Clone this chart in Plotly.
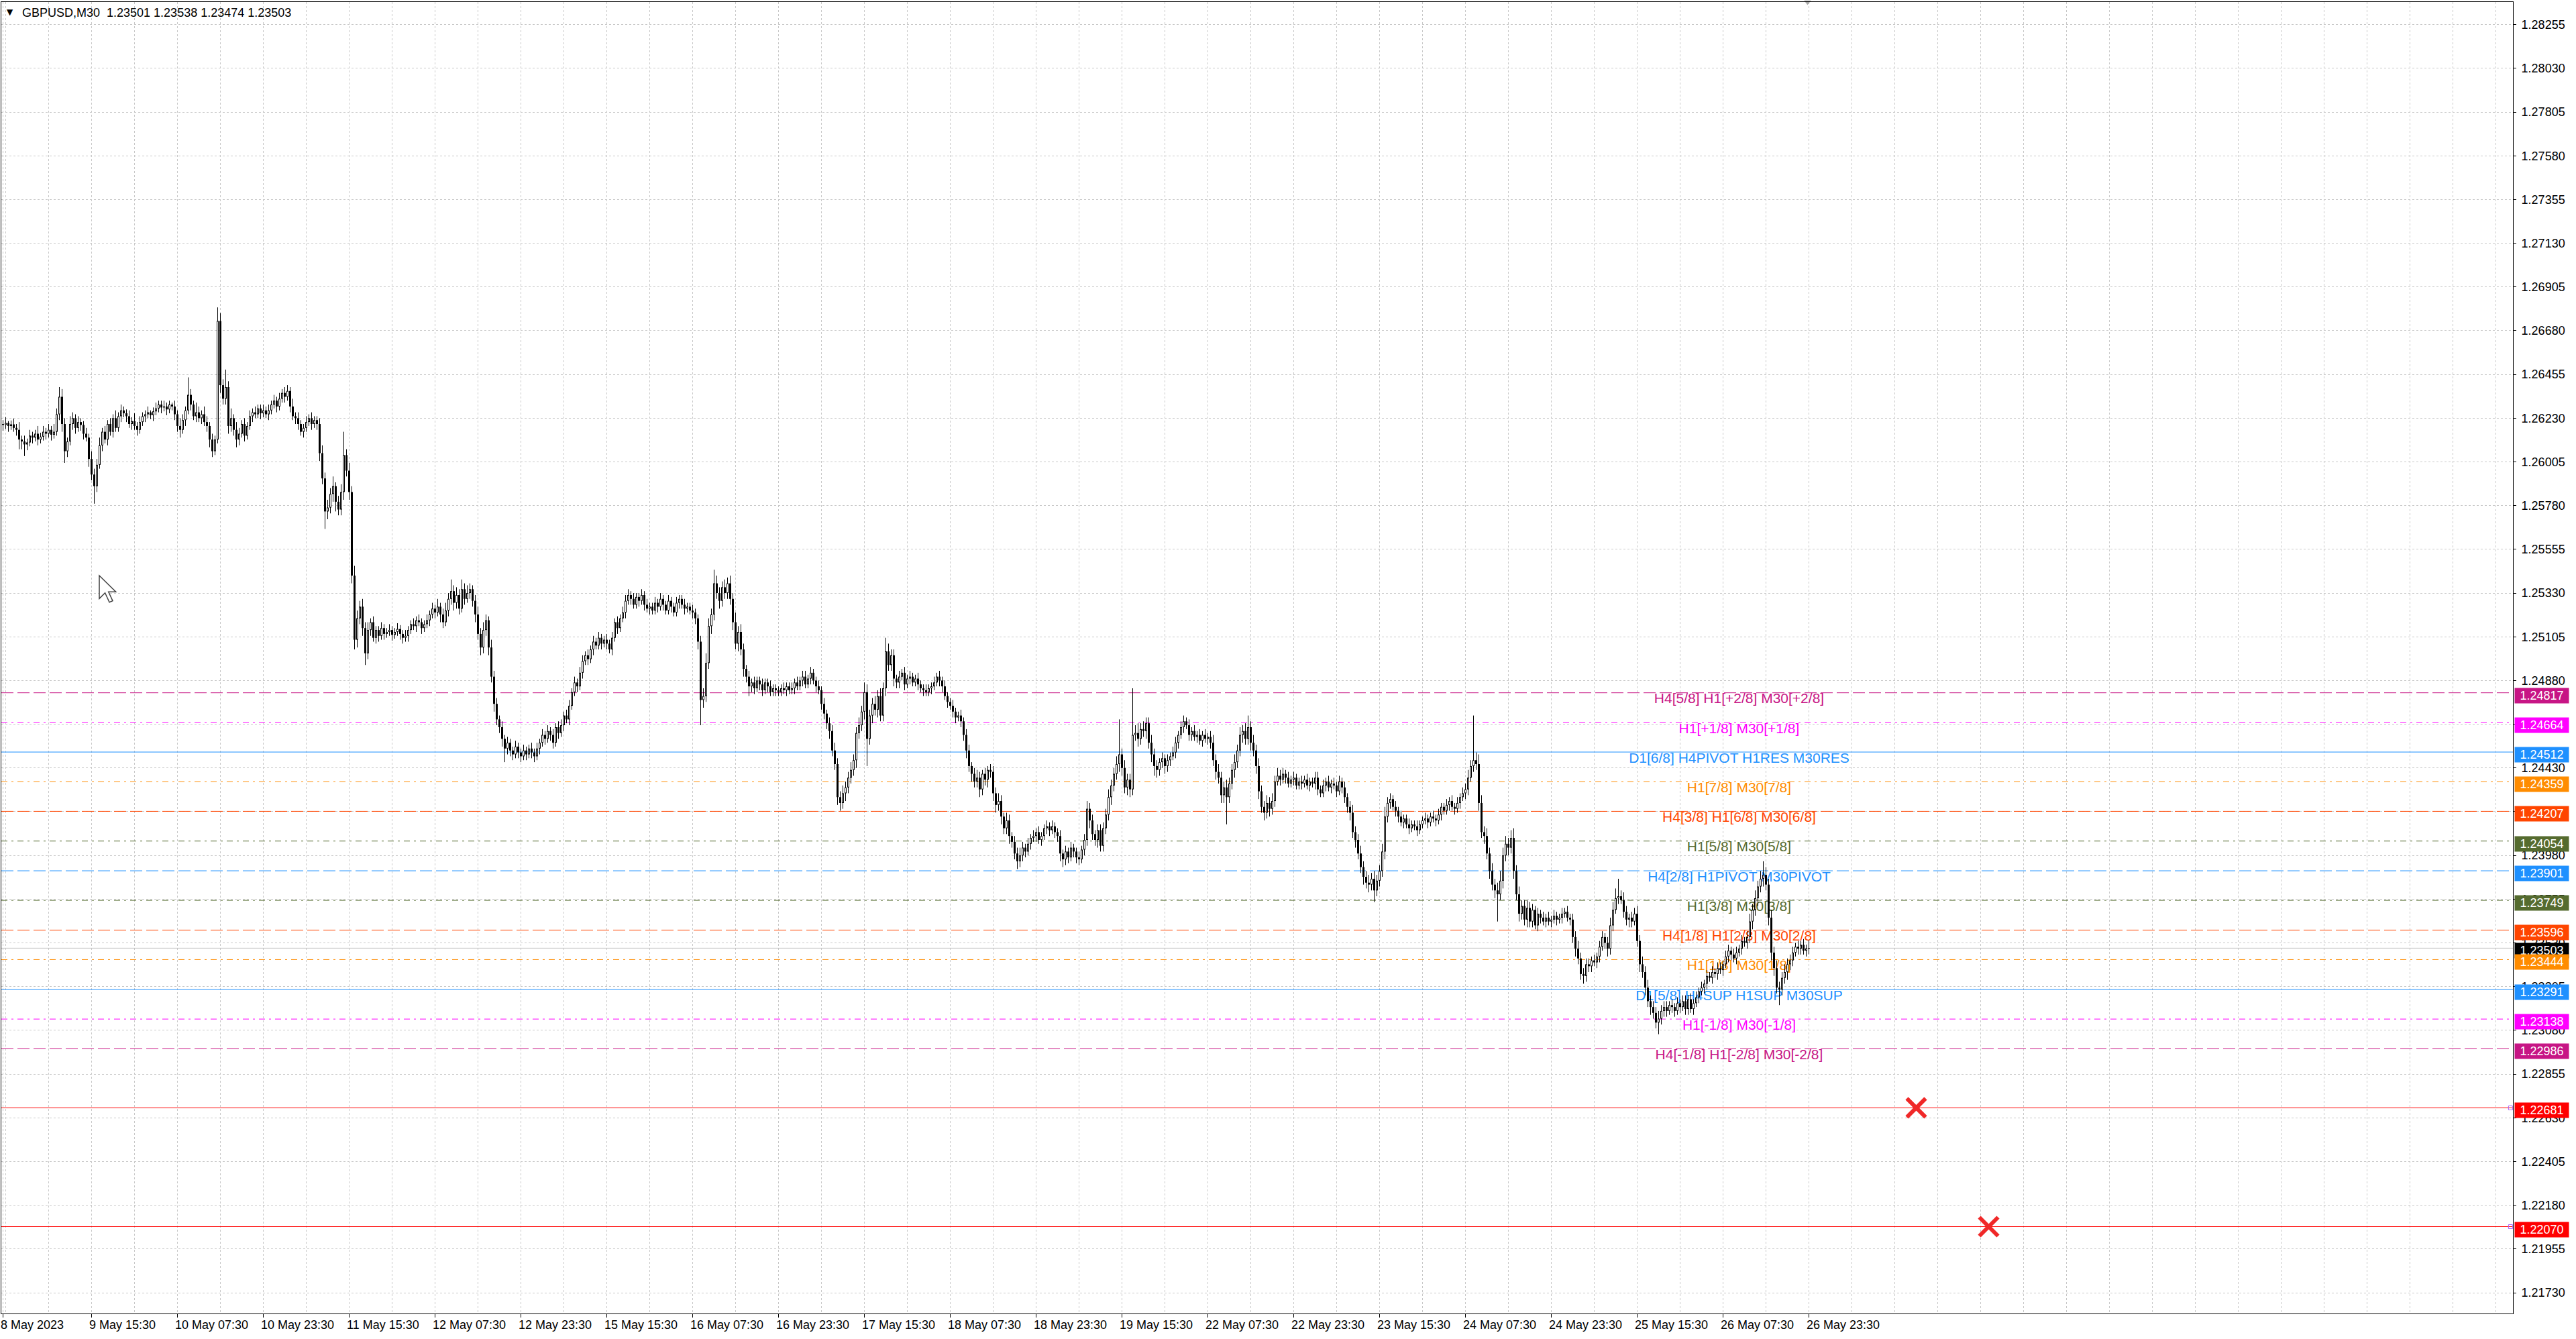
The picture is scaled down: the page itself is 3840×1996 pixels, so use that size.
import plotly.graph_objects as go

# ---------------- data (prices in 0.1-pip units above 1.20000) ----------------
BASE = 1.20000
UNIT = 0.00001
OPEN_FIRST = 6200

CLOSE = [
    6195, 6205, 6190, 6198, 6180, 6170, 6120, 6110, 6095, 6105,   # 0
    6140, 6130, 6150, 6120, 6135, 6160, 6150, 6170, 6145, 6160,   # 10
    6250, 6340, 6200, 6060, 6110, 6200, 6230, 6180, 6210, 6195,   # 20
    6150, 6130, 6020, 5940, 5880, 5990, 6090, 6160, 6120, 6200,   # 30
    6160, 6230, 6180, 6240, 6270, 6255, 6240, 6200, 6215, 6190,   # 40
    6170, 6210, 6240, 6250, 6260, 6245, 6265, 6280, 6300, 6285,   # 50
    6290, 6275, 6300, 6290, 6250, 6190, 6170, 6220, 6270, 6350,   # 60
    6300, 6240, 6260, 6230, 6250, 6210, 6190, 6120, 6060, 6120,   # 70
    6730, 6400, 6330, 6390, 6190, 6230, 6170, 6120, 6150, 6200,   # 80
    6140, 6190, 6240, 6260, 6250, 6280, 6255, 6270, 6250, 6270,   # 90
    6300, 6320, 6290, 6330, 6360, 6340, 6370, 6290, 6240, 6230,   # 100
    6200, 6160, 6180, 6210, 6230, 6200, 6220, 6200, 6050, 5920,   # 110
    5750, 5770, 5840, 5880, 5800, 5760, 5850, 6040, 5960, 5850,   # 120
    5420, 5090, 5200, 5260, 5150, 5020, 5140, 5180, 5100, 5140,   # 130
    5110, 5150, 5120, 5130, 5140, 5115, 5130, 5145, 5120, 5100,   # 140
    5110, 5140, 5170, 5160, 5190, 5180, 5150, 5170, 5190, 5220,   # 150
    5250, 5230, 5260, 5220, 5180, 5240, 5300, 5340, 5280, 5320,   # 160
    5250, 5350, 5300, 5330, 5350, 5290, 5220, 5120, 5050, 5140,   # 170
    5190, 5050, 4900, 4760, 4680, 4640, 4580, 4530, 4560, 4520,   # 180
    4500, 4540, 4510, 4490, 4520, 4500, 4530, 4510, 4490, 4530,   # 190
    4560, 4600, 4580, 4620, 4600, 4560, 4640, 4610, 4650, 4700,   # 200
    4680, 4750, 4820, 4870, 4850, 4920, 4980, 5010, 4990, 5040,   # 210
    5080, 5060, 5100, 5070, 5090, 5070, 5040, 5100, 5180, 5150,   # 220
    5200, 5230, 5290, 5320, 5300, 5270, 5310, 5290, 5320, 5270,   # 230
    5250, 5260, 5240, 5280, 5260, 5300, 5270, 5240, 5290, 5260,   # 240
    5230, 5280, 5300, 5270, 5250, 5260, 5240, 5230, 5200, 5080,   # 250
    4780, 4800, 4970, 5160, 5220, 5380, 5330, 5290, 5360, 5330,   # 260
    5380, 5300, 5180, 5070, 5130, 5040, 4940, 4900, 4850, 4870,   # 270
    4840, 4880, 4860, 4830, 4870, 4850, 4820, 4840, 4830, 4820,   # 280
    4840, 4830, 4850, 4830, 4840, 4870, 4850, 4880, 4900, 4860,   # 290
    4890, 4920, 4880, 4850, 4830, 4760, 4710, 4660, 4620, 4520,   # 300
    4450, 4280, 4250, 4300, 4330, 4380, 4420, 4470, 4610, 4650,   # 310
    4720, 4820, 4580, 4700, 4760, 4730, 4800, 4700, 4840, 5030,   # 320
    4960, 5010, 4890, 4870, 4900, 4920, 4860, 4890, 4900, 4870,   # 330
    4890, 4860, 4840, 4830, 4820, 4840, 4850, 4870, 4900, 4880,   # 340
    4850, 4800, 4770, 4750, 4720, 4690, 4700, 4670, 4600, 4520,   # 350
    4440, 4400, 4360, 4380, 4320, 4400, 4370, 4420, 4410, 4300,   # 360
    4240, 4260, 4180, 4120, 4160, 4080, 4050, 3990, 3950, 3980,   # 370
    4020, 4000, 4040, 4070, 4080, 4100, 4060, 4080, 4120, 4130,   # 380
    4110, 4130, 4100, 4080, 3990, 3960, 4000, 3970, 4020, 4000,   # 390
    3970, 3960, 4010, 4060, 4220, 4160, 4090, 4060, 4110, 4030,   # 400
    4120, 4190, 4280, 4340, 4400, 4450, 4500, 4430, 4330, 4370,   # 410
    4320, 4600, 4610, 4580, 4630, 4620, 4660, 4560, 4500, 4440,   # 420
    4420, 4460, 4480, 4440, 4470, 4490, 4510, 4560, 4600, 4640,   # 430
    4670, 4650, 4600, 4620, 4590, 4600, 4570, 4600, 4580, 4590,   # 440
    4560, 4470, 4410, 4380, 4290, 4330, 4280, 4350, 4420, 4460,   # 450
    4520, 4600, 4620, 4580, 4640, 4560, 4520, 4440, 4310, 4230,   # 460
    4200, 4250, 4220, 4260, 4360, 4390, 4370, 4400, 4380, 4350,   # 470
    4370, 4380, 4340, 4360, 4350, 4370, 4340, 4360, 4350, 4380,   # 480
    4320, 4300, 4340, 4360, 4330, 4350, 4340, 4310, 4360, 4330,   # 490
    4280, 4230, 4200, 4100, 4060, 3990, 3920, 3870, 3840, 3830,   # 500
    3860, 3800, 3850, 3900, 4000, 4180, 4250, 4270, 4230, 4210,   # 510
    4180, 4150, 4170, 4140, 4120, 4140, 4130, 4110, 4140, 4160,   # 520
    4170, 4150, 4180, 4170, 4160, 4190, 4230, 4210, 4240, 4260,   # 530
    4230, 4220, 4250, 4280, 4300, 4320, 4380, 4440, 4470, 4450,   # 540
    4250, 4100, 4080, 3990, 3900, 3830, 3800, 3780, 3850, 3980,   # 550
    4040, 4020, 4070, 3900, 3780, 3680, 3720, 3650, 3710, 3640,   # 560
    3700, 3620, 3680, 3660, 3640, 3660, 3640, 3650, 3670, 3650,   # 570
    3660, 3680, 3690, 3660, 3650, 3560, 3500, 3450, 3370, 3360,   # 580
    3420, 3410, 3440, 3430, 3460, 3510, 3560, 3530, 3500, 3620,   # 590
    3700, 3760, 3770, 3750, 3690, 3650, 3660, 3640, 3680, 3540,   # 600
    3420, 3380, 3300, 3230, 3200, 3170, 3120, 3140, 3180, 3200,   # 610
    3180, 3210, 3200, 3180, 3220, 3200, 3230, 3190, 3240, 3190,   # 620
    3220, 3250, 3280, 3300, 3320, 3360, 3350, 3380, 3370, 3400,   # 630
    3390, 3420, 3460, 3490, 3470, 3450, 3480, 3500, 3540, 3530,   # 640
    3560, 3640, 3700, 3760, 3820, 3860, 3880, 3830, 3660, 3480,   # 650
    3400, 3300, 3290, 3350, 3380, 3420, 3440, 3480, 3510, 3500,   # 660
    3520, 3490, 3501, 3503,                                       # 670
]

# wick extents beyond the body, in pips
WICK_UP = [
    2, 3, 1, 2, 3, 2, 4, 2, 3, 2,  3, 2, 2, 4, 2, 3, 2, 3, 2, 4,
    3, 5, 4, 3, 2, 4, 3, 2, 3, 2,  2, 3, 2, 4, 3, 3, 4, 2, 3, 2,
    3, 2, 4, 2, 3, 2, 2, 3, 2, 4,  2, 3, 2, 2, 3, 1, 2, 3, 2, 2,
    3, 2, 2, 1, 3, 2, 4, 3, 2, 9,  3, 2, 5, 3, 2, 4, 3, 2, 3, 2,
    7, 4, 3, 9, 3, 5, 2, 4, 3, 2,  3, 2, 3, 2, 3, 2, 2, 3, 2, 3,
    2, 3, 2, 3, 2, 3, 3, 2, 4, 2,  3, 2, 2, 3, 2, 3, 2, 2, 3, 4,
    3, 4, 3, 5, 2, 3, 4, 12, 3, 4, 3, 5, 4, 3, 4, 3, 4, 2, 3, 2,
    2, 3, 2, 2, 3, 2, 2, 3, 2, 2,  3, 2, 2, 3, 2, 3, 2, 2, 3, 2,
    3, 2, 4, 2, 3, 4, 3, 6, 3, 4,  3, 5, 3, 4, 3, 2, 3, 4, 3, 4,
    3, 2, 4, 3, 3, 2, 3, 2, 3, 2,  2, 3, 2, 2, 3, 2, 2, 3, 2, 3,
    2, 3, 2, 3, 2, 3, 2, 3, 3, 2,  3, 3, 2, 3, 2, 3, 3, 2, 3, 2,
    3, 2, 3, 2, 2, 3, 2, 3, 2, 3,  2, 3, 3, 3, 2, 3, 2, 2, 3, 2,
    3, 2, 2, 3, 2, 3, 2, 2, 3, 2,  2, 3, 2, 2, 3, 2, 2, 3, 2, 2,
    3, 4, 5, 4, 3, 7, 4, 3, 3, 4,  3, 4, 3, 5, 3, 4, 3, 2, 3, 2,
    3, 2, 2, 3, 2, 2, 3, 2, 2, 2,  2, 3, 2, 2, 3, 2, 3, 2, 3, 3,
    2, 3, 2, 2, 3, 2, 3, 2, 3, 3,  4, 3, 3, 4, 3, 3, 4, 3, 3, 4,
    3, 5, 4, 3, 3, 4, 3, 4, 3, 7,  4, 3, 3, 2, 3, 2, 3, 2, 3, 2,
    2, 3, 2, 2, 3, 2, 2, 3, 2, 3,  2, 3, 2, 2, 3, 2, 2, 3, 2, 3,
    3, 2, 3, 4, 3, 2, 3, 2, 3, 3,  3, 4, 3, 2, 4, 3, 2, 3, 3, 4,
    3, 2, 3, 2, 3, 2, 3, 2, 2, 3,  2, 3, 2, 2, 3, 2, 3, 2, 3, 2,
    2, 3, 2, 3, 4, 3, 3, 2, 3, 3,  3, 3, 4, 3, 3, 4, 18, 3, 4, 3,
    3, 24, 4, 5, 3, 4, 3, 3, 4, 3, 3, 2, 3, 2, 3, 2, 3, 3, 2, 3,
    3, 2, 3, 2, 3, 2, 3, 2, 3, 2,  3, 4, 3, 4, 3, 3, 4, 3, 3, 4,
    3, 4, 3, 4, 6, 3, 4, 3, 4, 3,  3, 4, 3, 4, 3, 4, 3, 3, 2, 3,
    2, 3, 2, 2, 3, 2, 3, 2, 2, 3,  3, 2, 3, 2, 3, 2, 3, 2, 3, 2,
    3, 2, 3, 4, 3, 3, 4, 3, 3, 4,  3, 4, 3, 3, 4, 5, 3, 3, 2, 3,
    2, 3, 2, 2, 3, 2, 2, 3, 2, 2,  3, 2, 2, 3, 2, 3, 2, 2, 3, 2,
    3, 2, 3, 2, 3, 3, 4, 3, 23, 4, 5, 4, 3, 4, 3, 4, 3, 4, 5, 4,
    4, 3, 4, 5, 3, 4, 3, 3, 4, 3,  3, 2, 3, 2, 3, 2, 3, 2, 3, 2,
    2, 3, 2, 3, 2, 3, 3, 4, 3, 3,  3, 3, 2, 3, 2, 3, 3, 2, 3, 4,
    4, 5, 9, 3, 4, 3, 2, 3, 3, 4,  3, 4, 3, 4, 3, 3, 3, 4, 3, 3,
    3, 2, 3, 2, 3, 2, 3, 3, 2, 3,  2, 3, 2, 3, 2, 3, 2, 3, 2, 3,
    3, 2, 3, 3, 2, 3, 3, 2, 3, 2,  3, 4, 3, 4, 3, 4, 7, 4, 3, 4,
    3, 4, 3, 3, 4, 3, 3, 3, 2, 3,  2, 3, 2, 4,
]

WICK_DN = [
    3, 2, 3, 2, 2, 3, 5, 4, 6, 3,  2, 3, 2, 3, 2, 2, 3, 2, 3, 2,
    2, 3, 4, 6, 3, 2, 3, 3, 2, 3,  3, 2, 4, 3, 9, 3, 2, 3, 2, 3,
    2, 3, 2, 2, 3, 2, 3, 2, 3, 2,  3, 2, 2, 3, 2, 2, 3, 2, 2, 3,
    2, 3, 2, 2, 3, 3, 4, 2, 3, 2,  3, 2, 3, 2, 3, 2, 3, 4, 3, 2,
    2, 4, 3, 3, 4, 3, 3, 4, 3, 2,  3, 2, 2, 3, 2, 2, 3, 2, 2, 3,
    2, 2, 3, 2, 2, 3, 2, 3, 2, 3,  3, 2, 3, 2, 2, 3, 2, 3, 4, 3,
    9, 4, 3, 4, 5, 3, 3, 4, 3, 4,  4, 5, 4, 3, 4, 6, 3, 3, 2, 3,
    3, 2, 3, 2, 2, 3, 2, 2, 3, 3,  2, 3, 2, 2, 3, 2, 3, 2, 2, 3,
    2, 3, 2, 4, 3, 2, 3, 3, 4, 3,  3, 2, 3, 2, 3, 3, 4, 3, 4, 3,
    3, 4, 3, 4, 3, 3, 4, 7, 3, 3,  3, 2, 3, 3, 2, 3, 2, 3, 3, 2,
    3, 2, 3, 2, 3, 3, 2, 3, 2, 3,  2, 3, 2, 2, 3, 2, 3, 2, 3, 2,
    3, 2, 2, 3, 2, 3, 2, 3, 2, 3,  2, 2, 3, 2, 3, 2, 2, 3, 2, 3,
    2, 3, 2, 2, 3, 2, 3, 2, 2, 3,  2, 2, 3, 2, 3, 2, 2, 3, 3, 4,
    13, 4, 3, 3, 4, 3, 3, 4, 3, 3, 3, 3, 4, 3, 4, 3, 4, 3, 5, 3,
    3, 2, 3, 3, 2, 3, 2, 2, 3, 2,  2, 2, 3, 2, 2, 3, 2, 2, 3, 2,
    2, 3, 2, 3, 2, 3, 3, 3, 4, 3,  3, 4, 4, 3, 4, 3, 3, 3, 4, 3,
    3, 4, 14, 3, 4, 3, 4, 3, 3, 4, 3, 3, 4, 3, 3, 2, 3, 2, 3, 2,
    2, 3, 2, 3, 2, 2, 3, 2, 2, 3,  3, 2, 3, 2, 3, 3, 2, 3, 3, 4,
    3, 4, 3, 3, 4, 3, 3, 4, 3, 4,  4, 3, 4, 3, 3, 4, 3, 3, 4, 3,
    3, 3, 2, 3, 2, 3, 2, 3, 2, 3,  3, 2, 3, 3, 4, 4, 3, 3, 2, 3,
    3, 3, 2, 3, 3, 4, 3, 3, 4, 3,  3, 3, 3, 4, 3, 3, 4, 4, 3, 4,
    4, 3, 3, 4, 3, 3, 4, 3, 4, 5,  4, 3, 3, 4, 3, 3, 2, 3, 3, 2,
    3, 2, 3, 3, 2, 3, 2, 3, 2, 3,  3, 3, 4, 3, 4, 4, 14, 3, 3, 4,
    3, 3, 4, 3, 3, 4, 3, 4, 4, 3,  4, 3, 4, 3, 3, 2, 3, 2, 3, 2,
    2, 3, 2, 2, 3, 2, 2, 3, 2, 3,  3, 2, 2, 3, 2, 3, 2, 3, 2, 3,
    3, 3, 4, 3, 4, 3, 3, 4, 3, 4,  3, 6, 3, 3, 3, 4, 3, 3, 2, 3,
    3, 2, 3, 2, 3, 2, 2, 3, 2, 2,  2, 3, 2, 2, 3, 2, 3, 2, 2, 3,
    2, 3, 2, 3, 2, 3, 3, 2, 3, 3,  4, 3, 4, 3, 4, 3, 4, 14, 3, 4,
    3, 4, 3, 4, 3, 4, 3, 3, 4, 3,  3, 2, 3, 3, 2, 3, 2, 3, 2, 3,
    2, 3, 2, 2, 3, 3, 4, 3, 3, 4,  3, 3, 3, 2, 3, 3, 2, 3, 4, 3,
    3, 2, 3, 2, 3, 3, 4, 3, 2, 3,  4, 3, 4, 3, 4, 3, 3, 6, 3, 3,
    3, 2, 3, 3, 2, 3, 2, 3, 3, 2,  3, 2, 3, 2, 3, 3, 2, 3, 2, 3,
    2, 3, 2, 3, 3, 2, 3, 2, 3, 2,  3, 3, 4, 3, 4, 3, 4, 3, 4, 4,
    4, 3, 8, 3, 3, 4, 3, 3, 2, 3,  3, 2, 3, 3,
]

TITLE = "GBPUSD,M30\u00a0\u00a01.23501 1.23538 1.23474 1.23503"

X_LABEL_POS = [0, 33, 65, 97, 129, 161, 193, 225, 257, 289, 321,
               353, 385, 417, 449, 481, 513, 545, 577, 609, 641, 673]
X_LABELS = ["8 May 2023", "9 May 15:30", "10 May 07:30", "10 May 23:30",
            "11 May 15:30", "12 May 07:30", "12 May 23:30", "15 May 15:30",
            "16 May 07:30", "16 May 23:30", "17 May 15:30", "18 May 07:30",
            "18 May 23:30", "19 May 15:30", "22 May 07:30", "22 May 23:30",
            "23 May 15:30", "24 May 07:30", "24 May 23:30", "25 May 15:30",
            "26 May 07:30", "26 May 23:30"]

Y_TICKS = ["1.21730", "1.21955", "1.22180", "1.22405", "1.22630", "1.22855",
           "1.23080", "1.23305", "1.23530", "1.23755", "1.23980", "1.24205",
           "1.24430", "1.24655", "1.24880", "1.25105", "1.25330", "1.25555",
           "1.25780", "1.26005", "1.26230", "1.26455", "1.26680", "1.26905",
           "1.27130", "1.27355", "1.27580", "1.27805", "1.28030", "1.28255"]

# Murrey-math style levels
LEVEL_PRICES = [1.24817, 1.24664, 1.24512, 1.24359, 1.24207, 1.24054, 1.23901,
                1.23749, 1.23596, 1.23444, 1.23291, 1.23138, 1.22986]
LEVEL_COLORS = ["#C71585", "#FF00FF", "#1E90FF", "#FF8C00", "#FF4500", "#556B2F",
                "#1E90FF", "#556B2F", "#FF4500", "#FF8C00", "#1E90FF", "#FF00FF",
                "#C71585"]
LEVEL_STYLE = ["dash", "dashdot", "solid", "dashdot", "dash", "dashdot", "dash",
               "dashdot", "dash", "dashdot", "solid", "dashdot", "dash"]
LEVEL_TEXT = ["H4[5/8] H1[+2/8] M30[+2/8]", "H1[+1/8] M30[+1/8]",
              "D1[6/8] H4PIVOT H1RES M30RES", "H1[7/8] M30[7/8]",
              "H4[3/8] H1[6/8] M30[6/8]", "H1[5/8] M30[5/8]",
              "H4[2/8] H1PIVOT M30PIVOT", "H1[3/8] M30[3/8]",
              "H4[1/8] H1[2/8] M30[2/8]", "H1[1/8] M30[1/8]",
              "D1[5/8] H4SUP H1SUP M30SUP", "H1[-1/8] M30[-1/8]",
              "H4[-1/8] H1[-2/8] M30[-2/8]"]
LEVEL_TEXT_X = 647

RED_LEVELS = [1.22681, 1.22070]
RED_MARK_X = [713, 740]
CURRENT_PRICE = 1.23503
CHART_SHIFT_X = 672.5

# ---------------- geometry ----------------
FONT = "Liberation Sans, Arial, sans-serif"
W, Hpx = 3840, 1996
ML, MR, MT, MB = 2, 94, 3, 38
X0, X1 = -0.625, 935.375
Y0, Y1 = 1.216230, 1.283713
PX_Y = (Hpx - MT - MB) / (Y1 - Y0)       # pixels per price unit
ONE_PX = 1.0 / PX_Y

N = min(len(CLOSE), len(WICK_UP), len(WICK_DN))
X = list(range(N))
O, H, L, C = [], [], [], []
prev = OPEN_FIRST
for i in range(N):
    o = prev
    c = CLOSE[i]
    O.append(BASE + o * UNIT)
    C.append(BASE + c * UNIT)
    H.append(BASE + (max(o, c) + WICK_UP[i] * 10) * UNIT)
    L.append(BASE + (min(o, c) - WICK_DN[i] * 10) * UNIT)
    prev = c

# candle geometry: wick segments, body segments, hollow interiors for bull candles
wx, wy, bx, by, ix, iy = [], [], [], [], [], []
for i in range(N):
    lo_b, hi_b = min(O[i], C[i]), max(O[i], C[i])
    if hi_b - lo_b < ONE_PX:
        mid = (hi_b + lo_b) / 2
        lo_b, hi_b = mid - ONE_PX / 2, mid + ONE_PX / 2
    wx += [i, i, None]
    wy += [L[i], H[i], None]
    bx += [i, i, None]
    by += [lo_b, hi_b, None]
    if C[i] > O[i] and hi_b - lo_b > 2.5 * ONE_PX:
        ix += [i, i, None]
        iy += [lo_b + ONE_PX, hi_b - ONE_PX, None]

dash_map = {"dash": "18px,6px", "dashdot": "9px,6px,3px,6px", "solid": "solid"}

fig = go.Figure()

# level lines
for p, col, st in zip(LEVEL_PRICES, LEVEL_COLORS, LEVEL_STYLE):
    fig.add_trace(go.Scatter(x=[X0, X1], y=[p, p], mode="lines",
                             line=dict(color=col, width=1, dash=dash_map[st]),
                             hoverinfo="skip", showlegend=False))
for p in RED_LEVELS:
    fig.add_trace(go.Scatter(x=[X0, X1], y=[p, p], mode="lines",
                             line=dict(color="#FF0000", width=1),
                             hoverinfo="skip", showlegend=False))
fig.add_trace(go.Scatter(x=[X0, X1], y=[CURRENT_PRICE, CURRENT_PRICE], mode="lines",
                         line=dict(color="#C0C0C0", width=1),
                         hoverinfo="skip", showlegend=False))

# level texts (under the candles)
for p, col, t in zip(LEVEL_PRICES, LEVEL_COLORS, LEVEL_TEXT):
    fig.add_trace(go.Scatter(x=[LEVEL_TEXT_X], y=[p], mode="text", text=[t],
                             textposition="bottom center",
                             textfont=dict(color=col, size=21, family=FONT),
                             hoverinfo="skip", showlegend=False))

# candles
fig.add_trace(go.Scatter(x=wx, y=wy, mode="lines", line=dict(color="black", width=1),
                         hoverinfo="skip", showlegend=False, connectgaps=False))
fig.add_trace(go.Scatter(x=bx, y=by, mode="lines", line=dict(color="black", width=3),
                         hoverinfo="skip", showlegend=False, connectgaps=False))
fig.add_trace(go.Scatter(x=ix, y=iy, mode="lines", line=dict(color="white", width=1),
                         hoverinfo="skip", showlegend=False, connectgaps=False))

# red X marks
fig.add_trace(go.Scatter(x=RED_MARK_X, y=RED_LEVELS, mode="markers",
                         marker=dict(symbol="x-thin", size=28,
                                     line=dict(color="#F02828", width=6)),
                         hoverinfo="skip", showlegend=False))
# small squares at right end of red lines
fig.add_trace(go.Scatter(x=[X1 - 0.9] * len(RED_LEVELS), y=RED_LEVELS, mode="markers",
                         marker=dict(symbol="square-open", size=6,
                                     line=dict(color="#FF0000", width=1)),
                         cliponaxis=False, hoverinfo="skip", showlegend=False))
# chart shift marker
fig.add_trace(go.Scatter(x=[CHART_SHIFT_X], y=[Y1], mode="markers",
                         marker=dict(symbol="triangle-down", size=9, color="#A9A9A9"),
                         cliponaxis=False, hoverinfo="skip", showlegend=False))

# mouse cursor left on the chart (pixel outline converted to data coords)
CURSOR_TIP = (148, 858)
CURSOR_OUTLINE = [(0, 0), (0, 16), (4, 12), (7, 18.5), (9.3, 17.5), (6.4, 11.3), (11.5, 11.3)]
def px_to_data(px, py):
    return X0 + (px - ML) * (X1 - X0) / (W - ML - MR), Y1 - (py - MT) / PX_Y
pts = [px_to_data(CURSOR_TIP[0] + 2.15 * a, CURSOR_TIP[1] + 2.15 * b) for a, b in CURSOR_OUTLINE]
cursor_path = "M " + " L ".join(f"{x:.4f},{y:.6f}" for x, y in pts) + " Z"

annotations = []
for pos, lab in zip(X_LABEL_POS, X_LABELS):
    annotations.append(dict(x=pos, xref="x", y=0, yref="paper", text=lab,
                            xanchor="left", yanchor="top", yshift=-5, xshift=-6,
                            showarrow=False, font=dict(size=18, family=FONT, color="black")))
box_prices = LEVEL_PRICES[:9] + [CURRENT_PRICE] + LEVEL_PRICES[9:] + RED_LEVELS
box_colors = LEVEL_COLORS[:9] + ["#000000"] + LEVEL_COLORS[9:] + ["#FF0000", "#FF0000"]
for p, col in zip(box_prices, box_colors):
    annotations.append(dict(x=1, xref="paper", y=p, yref="y", text=f"{p:.5f}",
                            xanchor="left", yanchor="middle", xshift=2, yshift=-4,
                            showarrow=False, bgcolor=col, width=78, height=20,
                            borderpad=1, align="center",
                            font=dict(size=18, family=FONT, color="white")))
annotations.append(dict(x=0, xref="paper", y=1, yref="paper", text=TITLE,
                        xanchor="left", yanchor="top", xshift=29, yshift=-4,
                        showarrow=False, font=dict(size=18, family=FONT, color="black")))
annotations.append(dict(x=0, xref="paper", y=1, yref="paper", text="\u25bc",
                        xanchor="left", yanchor="top", xshift=6, yshift=-6,
                        showarrow=False, font=dict(size=12, family="DejaVu Sans", color="black")))

fig.update_layout(
    width=W, height=Hpx,
    margin=dict(l=ML, r=MR, t=MT, b=MB),
    paper_bgcolor="white", plot_bgcolor="white",
    showlegend=False,
    annotations=annotations,
    shapes=[dict(type="path", path=cursor_path, xref="x", yref="y",
                 fillcolor="white", line=dict(color="#404040", width=1.5), layer="above")],
    xaxis=dict(range=[X0, X1],
               tickvals=X_LABEL_POS, ticktext=[""] * len(X_LABEL_POS),
               showticklabels=False, ticks="outside", ticklen=5, tickcolor="black",
               showgrid=True, gridcolor="#C8C8C8", griddash="3px,3px", gridwidth=1,
               minor=dict(tickvals=list(range(1, 936, 16)), showgrid=True,
                          gridcolor="#C8C8C8", griddash="3px,3px", gridwidth=1, ticks=""),
               showline=True, linecolor="black", linewidth=1, mirror=True,
               zeroline=False, fixedrange=True),
    yaxis=dict(range=[Y0, Y1], side="right",
               tickvals=[float(v) for v in Y_TICKS], ticktext=Y_TICKS,
               ticks="outside", ticklen=4, tickcolor="black", ticklabelstandoff=4,
               tickfont=dict(size=18, family=FONT, color="black"),
               showgrid=True, gridcolor="#C8C8C8", griddash="3px,3px", gridwidth=1,
               showline=True, linecolor="black", linewidth=1, mirror=True,
               zeroline=False, fixedrange=True),
)

fig.write_html("out.html", config={"displayModeBar": False},
               post_script="document.body.style.margin='0';document.body.style.overflow='hidden';")
